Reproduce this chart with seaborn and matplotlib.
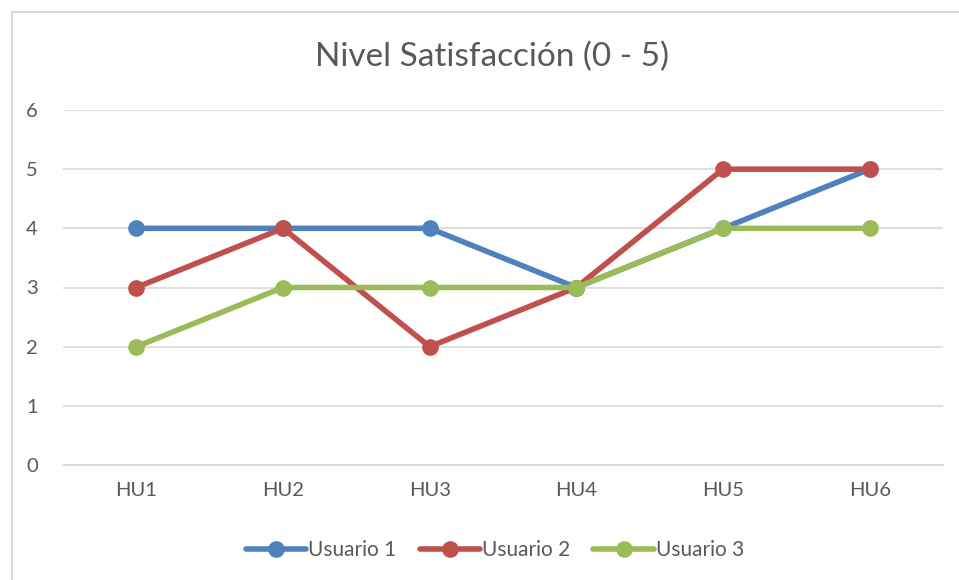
import matplotlib
matplotlib.use("Agg")
import matplotlib.pyplot as plt
from matplotlib.patches import Rectangle
import pandas as pd
import seaborn as sns

categories = ["HU1", "HU2", "HU3", "HU4", "HU5", "HU6"]
usuario_1 = [4, 4, 4, 3, 4, 5]
usuario_2 = [3, 4, 2, 3, 5, 5]
usuario_3 = [2, 3, 3, 3, 4, 4]
series_names = ["Usuario 1", "Usuario 2", "Usuario 3"]
y_ticks = [0, 1, 2, 3, 4, 5, 6]
title = "Nivel Satisfacción (0 - 5)"

colors = ["#4F81BD", "#C0504D", "#9BBB59"]
text_color = "#595959"

sns.set_theme(style="white")
plt.rcParams["font.family"] = ["Lato", "DejaVu Sans"]

df = pd.DataFrame({
    "HU": categories * 3,
    "x": list(range(len(categories))) * 3,
    "valor": usuario_1 + usuario_2 + usuario_3,
    "serie": [s for s in series_names for _ in categories],
})

W, H = 959, 580
fig = plt.figure(figsize=(W / 100, H / 100), dpi=100)
ax = fig.add_axes([63 / W, 1 - 465 / H, 880 / W, 355 / H])

# chart-area frame
fig.patches.append(Rectangle((12 / W, -0.05), 1.2, 1 - 12 / H + 0.05,
                             transform=fig.transFigure, fill=False,
                             edgecolor="#D9D9D9", linewidth=1.5, zorder=0))

sns.lineplot(data=df, x="x", y="valor", hue="serie", palette=colors,
             marker="o", markersize=12, markeredgewidth=0, linewidth=4,
             ax=ax, legend=False, sort=False)

ax.set_xlim(-0.5, len(categories) - 0.5)
ax.set_ylim(0, 6)
ax.set_yticks(y_ticks)
ax.set_yticklabels([str(v) for v in y_ticks], color=text_color, fontsize=14.5)
ax.set_xticks(range(len(categories)))
ax.set_xticklabels(categories, color=text_color, fontsize=14.5)
ax.tick_params(axis="y", length=0, pad=18)
ax.tick_params(axis="x", length=0, pad=12)
ax.yaxis.grid(True, color="#D9D9D9", linewidth=1.2)
ax.set_axisbelow(True)
for side in ["top", "right", "left"]:
    ax.spines[side].set_visible(False)
ax.spines["bottom"].set_color("#D9D9D9")
ax.spines["bottom"].set_linewidth(1.2)
ax.set_xlabel("")
ax.set_ylabel("")

fig.text(492 / W, 1 - 57 / H, title, ha="center", va="center",
         fontsize=24, color=text_color)

handles = [plt.Line2D([], [], color=c, linewidth=4, marker="o", markersize=12,
                      markeredgewidth=0) for c in colors]
fig.legend(handles, series_names, loc="center", bbox_to_anchor=(495 / W, 1 - 550 / H),
           ncol=3, frameon=False, fontsize=15, labelcolor=text_color,
           handlelength=2.9, handletextpad=0.1, columnspacing=1.1)

fig.savefig("out.png", dpi=100)
